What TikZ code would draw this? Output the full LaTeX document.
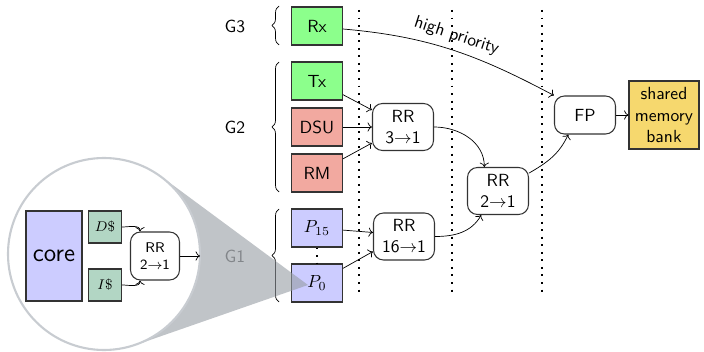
\documentclass[tikz,border=0pt]{standalone}
\usepackage{tikz}
\usetikzlibrary{arrows.meta,calc,decorations.pathreplacing}
\definecolor{rxgreen}{RGB}{140,255,140}
\definecolor{unitred}{RGB}{242,169,160}
\definecolor{portblue}{RGB}{204,204,255}
\definecolor{bankyellow}{RGB}{246,216,110}
\definecolor{cachegreen}{RGB}{178,214,196}
\definecolor{lensgray}{RGB}{150,156,163}
\definecolor{lensline}{RGB}{200,204,209}

\begin{document}
\begin{tikzpicture}[>=To,font=\sffamily,
  unit/.style={draw=black!80,semithick,minimum width=1.02cm,minimum height=0.76cm,inner sep=1pt},
  arb/.style={draw=black!80,semithick,rounded corners=0.2cm,minimum width=1.22cm,minimum height=0.94cm,align=center,inner sep=1pt},
  cache/.style={draw=black!80,semithick,fill=cachegreen,minimum width=0.66cm,minimum height=0.64cm,inner sep=1pt,font=\footnotesize},
  grp/.style={decorate,decoration={brace,amplitude=0.14cm}},
  sep/.style={line width=1.1pt,dash pattern=on 1.1pt off 3.2pt}]
\useasboundingbox (0,0) rectangle (14.08,7.04);
% requesters
\node[unit,fill=rxgreen] (rx) at (6.34,6.52) {Rx};
\node[unit,fill=rxgreen] (tx) at (6.34,5.42) {Tx};
\node[unit,fill=unitred] (dsu) at (6.34,4.50) {DSU};
\node[unit,fill=unitred] (rm) at (6.34,3.58) {RM};
\node[unit,fill=portblue] (p15) at (6.34,2.48) {$P_{15}$};
\node[unit,fill=portblue] (p0) at (6.34,1.38) {$P_0$};
\draw[sep,line width=0.9pt] (p15) -- (p0);
% groups
\node (g3) at (4.70,6.52) {G3};
\node (g2) at (4.70,4.50) {G2};
\node[text=black!60] (g1) at (4.70,1.92) {G1};
\draw[grp] (5.58,6.14) -- (5.58,6.92);
\draw[grp] (5.58,3.20) -- (5.58,5.80);
\draw[grp] (5.58,1.00) -- (5.58,2.86);
% pipeline cuts
\draw[sep] (7.18,6.84) -- (7.18,1.12);
\draw[sep] (9.04,6.84) -- (9.04,1.12);
\draw[sep] (10.84,6.84) -- (10.84,1.12);
% arbiters
\node[arb] (rr3) at (8.06,4.50) {RR\\3$\rightarrow$1};
\node[arb] (rr16) at (8.08,2.31) {RR\\16$\rightarrow$1};
\node[arb] (rr2) at (9.96,3.22) {RR\\2$\rightarrow$1};
\node[arb,minimum height=0.76cm] (fp) at (11.70,4.74) {FP};
\node[draw=black!80,semithick,fill=bankyellow,minimum width=1.40cm,minimum height=1.36cm,align=center,inner sep=1pt] (bank) at (13.28,4.74) {shared\\memory\\bank};
\draw[->] (tx) -- ([yshift=0.34cm]rr3.west);
\draw[->] (dsu) -- (rr3);
\draw[->] (rm) -- ([yshift=-0.32cm]rr3.west);
\draw[->] (p15) -- ([yshift=0.08cm]rr16.west);
\draw[->] (p0) -- ([yshift=-0.30cm]rr16.west);
\draw[->] (rr3.east) to[out=0,in=90] ($(rr2.north west)!0.28!(rr2.north east)$);
\draw[->] (rr16.east) to[out=0,in=-120] ($(rr2.south west)!0.23!(rr2.south east)$);
\draw[->] (rr2.30) to[out=30,in=-115] ($(fp.south west)!0.23!(fp.south east)$);
\draw[->] ([yshift=-0.06cm]rx.east) to[out=-5,in=152] node[above,sloped] {high priority} (fp.north west);
\draw[->] (fp) -- (bank);
% zoomed core
\node[circle,minimum size=3.84cm,inner sep=0] (lens) at (2.08,1.96) {};
\coordinate (apex) at (6.16,1.34);
\fill[lensgray,fill opacity=0.6] (apex) -- (tangent cs:node=lens,point={(apex)},solution=1)
  -- (lens.center) -- (tangent cs:node=lens,point={(apex)},solution=2) -- cycle;
\draw[lensline,line width=1.2pt,fill=white] (lens.center) circle (1.92cm);
\node[draw=black!80,semithick,fill=portblue,minimum width=1.12cm,minimum height=1.80cm,font=\sffamily\Large] (core) at (1.08,1.92) {core};
\node[cache] (dcache) at (2.10,2.50) {$D\$$};
\node[cache] (icache) at (2.10,1.34) {$I\$$};
\node[arb,minimum width=0.98cm,minimum height=0.96cm,font=\sffamily\footnotesize] (rrcore) at (3.10,1.92) {RR\\2$\rightarrow$1};
\coordinate (lensout) at (4.00,1.92);
\draw[->] (dcache.east) to[out=0,in=90] ($(rrcore.north west)!0.2!(rrcore.north east)$);
\draw[->] (icache.east) to[out=0,in=-90] ($(rrcore.south west)!0.2!(rrcore.south east)$);
\draw[->] (rrcore) -- (lensout);
\end{tikzpicture}
\end{document}
